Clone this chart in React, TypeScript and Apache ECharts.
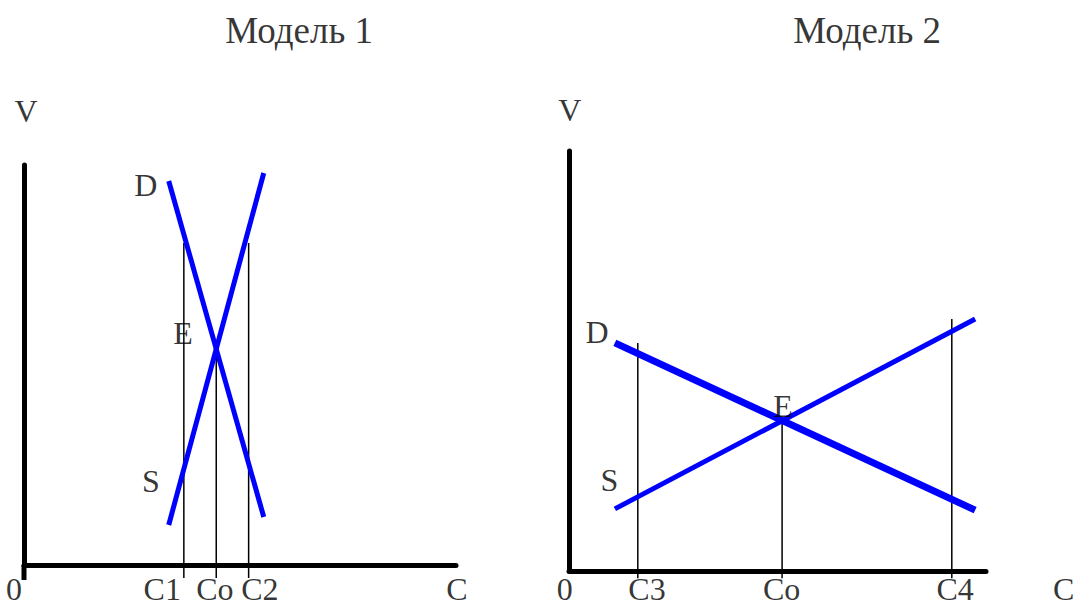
import React, { useEffect, useRef } from "react";
import * as echarts from "echarts";

// ---------- Model 1 (left panel) ----------
const m1Title = "Модель 1";
const m1Demand: number[][] = [[33.5, 96], [55.5, 12]];
const m1Supply: number[][] = [[33.5, 10], [55.5, 98]];
const m1GuideC1: number[][] = [[37, -3.25], [37, 80.5]];
const m1GuideCo: number[][] = [[44.5, -3.25], [44.5, 54]];
const m1GuideC2: number[][] = [[52, -3.25], [52, 80.5]];
const m1AxisStub: number[][] = [[0, -3.75], [0, 0]];
const m1Labels: { name: string; value: number[] }[] = [
  { name: "D", value: [28.2, 95] },
  { name: "E", value: [36.8, 58] },
  { name: "S", value: [29.4, 21] },
  { name: "V", value: [0.5, 113.5] },
];
const m1TickLabels: { name: string; value: number[] }[] = [
  { name: "0", value: [-2.3, -6.1] },
  { name: "C1", value: [32.0, -6.1] },
  { name: "Co", value: [44.2, -6.1] },
  { name: "C2", value: [54.6, -6.1] },
  { name: "C", value: [100.2, -6.1] },
];
const m1TitlePos: number[] = [63.7, 133.6];

// ---------- Model 2 (right panel) ----------
const m2Title = "Модель 2";
const m2Demand: number[][] = [[11, 54.3], [97.4, 14.5]];
const m2Supply: number[][] = [[11, 14.8], [97.4, 60]];
const m2GuideC3: number[][] = [[16.5, -1.7], [16.5, 54.3]];
const m2GuideCo: number[][] = [[51.1, -1.7], [51.1, 36]];
const m2GuideC4: number[][] = [[91.8, -1.7], [91.8, 60]];
const m2Labels: { name: string; value: number[] }[] = [
  { name: "D", value: [6.7, 56.9] },
  { name: "E", value: [51.3, 39.3] },
  { name: "S", value: [9.7, 21.7] },
  { name: "V", value: [0.2, 109.8] },
];
const m2TickLabels: { name: string; value: number[] }[] = [
  { name: "0", value: [-1, -4.3] },
  { name: "C3", value: [18.7, -4.3] },
  { name: "Co", value: [51, -4.3] },
  { name: "C4", value: [92.6, -4.3] },
  { name: "C", value: [118.6, -4.3] },
];
const m2TitlePos: number[] = [71.5, 128.8];

const FONT = "Liberation Serif, Times New Roman, serif";
const BLUE = "#0000ff";

function lineSeries(data: number[][], idx: number, width: number, color: string) {
  return {
    type: "line",
    xAxisIndex: idx,
    yAxisIndex: idx,
    data,
    symbol: "none",
    silent: true,
    clip: false,
    lineStyle: { width, color, cap: "butt" },
    z: width > 3 ? 4 : 3,
  };
}

function labelSeries(
  data: { name: string; value: number[] }[],
  idx: number,
  fontSize: number,
  lineHeight?: number
) {
  return {
    type: "scatter",
    xAxisIndex: idx,
    yAxisIndex: idx,
    data,
    symbolSize: 1,
    clip: false,
    silent: true,
    itemStyle: { color: "rgba(0,0,0,0)" },
    label: {
      show: true,
      position: "inside",
      formatter: "{b}",
      fontFamily: FONT,
      fontSize,
      lineHeight: lineHeight ?? fontSize,
      color: "#000",
      textBorderWidth: 0,
    },
    z: 6,
  };
}

function axisDef(idx: number) {
  return {
    type: "value",
    min: 0,
    max: 100,
    gridIndex: idx,
    axisLine: { show: true, onZero: false, lineStyle: { color: "#000", width: 5 } },
    axisTick: { show: false },
    axisLabel: { show: false },
    splitLine: { show: false },
  };
}

export default function App() {
  const ref = useRef<HTMLDivElement>(null);

  useEffect(() => {
    if (!ref.current) return;
    const chart = echarts.init(ref.current, null, { renderer: "svg" });
    chart.setOption({
      animation: false,
      backgroundColor: "#fff",
      grid: [
        { left: 24, top: 165, width: 432, height: 400 },
        { left: 569, top: 151, width: 417, height: 420 },
      ],
      xAxis: [axisDef(0), axisDef(1)],
      yAxis: [axisDef(0), axisDef(1)],
      series: [
        lineSeries(m1AxisStub, 0, 5, "#000"),
        lineSeries(m1GuideC1, 0, 1.5, "#000"),
        lineSeries(m1GuideCo, 0, 1.5, "#000"),
        lineSeries(m1GuideC2, 0, 1.5, "#000"),
        lineSeries(m1Demand, 0, 5, BLUE),
        lineSeries(m1Supply, 0, 5, BLUE),
        labelSeries(m1Labels, 0, 32),
        labelSeries(m1TickLabels, 0, 32, 22),
        labelSeries([{ name: m1Title, value: m1TitlePos }], 0, 37),
        lineSeries(m2GuideC3, 1, 1.5, "#000"),
        lineSeries(m2GuideCo, 1, 1.5, "#000"),
        lineSeries(m2GuideC4, 1, 1.5, "#000"),
        lineSeries(m2Demand, 1, 7, BLUE),
        lineSeries(m2Supply, 1, 5, BLUE),
        labelSeries(m2Labels, 1, 32),
        labelSeries(m2TickLabels, 1, 32, 22),
        labelSeries([{ name: m2Title, value: m2TitlePos }], 1, 37),
      ],
    });
    return () => chart.dispose();
  }, []);

  return (
    <div
      ref={ref}
      style={{ position: "fixed", left: 0, top: 0, width: 1075, height: 602 }}
    />
  );
}
